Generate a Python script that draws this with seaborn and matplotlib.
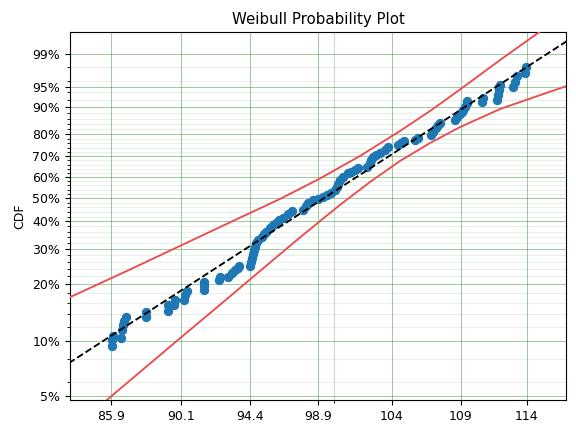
import numpy as np
import seaborn as sns
import matplotlib
matplotlib.use("Agg")
import matplotlib.pyplot as plt
from matplotlib.ticker import FixedLocator, NullFormatter

# observed failures (x) and plotting positions (CDF)
obs_x = [85.96, 85.96, 86.02, 86.49, 86.55, 86.61, 86.67, 86.78, 87.97, 87.97,
         89.29, 89.29, 89.66, 89.72, 90.27, 90.33, 90.45, 91.51, 91.51, 91.51,
         92.45, 92.51, 93.01, 93.27, 93.46, 93.65, 93.71, 94.42, 94.48, 94.55,
         94.61, 94.68, 94.74, 94.81, 94.94, 95.20, 95.33, 95.46, 95.72, 95.91,
         96.11, 96.30, 96.57, 96.90, 97.16, 97.89, 98.09, 98.22, 98.56, 98.89,
         99.23, 99.50, 99.77, 100.04, 100.18, 100.24, 100.38, 100.59, 100.93, 101.14,
         101.41, 101.62, 102.25, 102.46, 102.53, 102.67, 102.88, 103.16, 103.51, 103.72,
         104.43, 104.64, 104.86, 105.64, 105.86, 106.80, 106.95, 107.16, 107.31, 107.46,
         108.56, 108.71, 108.93, 109.08, 109.15, 109.30, 109.45, 109.45, 110.58, 110.66,
         111.72, 111.79, 111.87, 111.87, 111.94, 112.94, 113.09, 113.25, 113.88, 113.95]
obs_F = [.0946, .1017, .1071, .1044, .1152, .1228, .1288, .1354, .1354, .1438,
         .1455, .1567, .1567, .1661, .1661, .1766, .1850, .1871, .1964, .2057,
         .2104, .2181, .2181, .2285, .2362, .2419, .2476, .2476, .2589, .2708,
         .2833, .2957, .3059, .3194, .3296, .3406, .3516, .3590, .3742, .3860,
         .3939, .4057, .4141, .4308, .4434, .4476, .4653, .4785, .4918, .4964,
         .5056, .5149, .5241, .5379, .5522, .5665, .5855, .5999, .6193, .6241,
         .6338, .6435, .6483, .6676, .6821, .6963, .7058, .7152, .7294, .7430,
         .7521, .7612, .7703, .7748, .7833, .7961, .8089, .8252, .8369, .8447,
         .8563, .8666, .8769, .8838, .8906, .8994, .9111, .9170, .9140, .9247,
         .9199, .9319, .9438, .9494, .9532, .9494, .9588, .9681, .9722, .9793]

# fitted model line
model_x = [83.0, 118.0]
model_F = [0.0711, 0.99751]

# confidence bounds
upper_x = [83.54, 87.02, 90.03, 93.14, 96.37, 99.03, 101.76, 104.57, 106.73,
           108.93, 111.94, 115.09, 116.19]
upper_F = [0.1718, 0.2376, 0.3092, 0.3959, 0.4964, 0.5927, 0.7010, 0.8131, 0.8872,
           0.9447, 0.9860, 0.99808, 0.99921]
lower_x = [84.98, 87.61, 90.03, 92.51, 95.07, 97.69, 100.38, 102.46, 104.57,
           106.73, 108.93, 111.94, 115.01, 117.78]
lower_F = [0.0419, 0.0680, 0.1040, 0.1567, 0.2336, 0.3388, 0.4697, 0.5760, 0.6773,
           0.7612, 0.8291, 0.8935, 0.9319, 0.9569]

x_ticks = [85.9, 90.1, 94.4, 98.9, 104, 109, 114]
x_labels = ["85.9", "90.1", "94.4", "98.9", "104", "109", "114"]
y_ticks = [0.05, 0.1, 0.2, 0.3, 0.4, 0.5, 0.6, 0.7, 0.8, 0.9, 0.95, 0.99]
y_labels = ["5%", "10%", "20%", "30%", "40%", "50%", "60%", "70%", "80%", "90%", "95%", "99%"]


def weibull_fwd(F):
    F = np.clip(F, 1e-9, 1 - 1e-12)
    return np.log(-np.log(1 - F))


def weibull_inv(y):
    return 1 - np.exp(-np.exp(y))


plt.rcParams["font.size"] = 9
fig = plt.figure(figsize=(5.76, 4.34), dpi=100)
ax = fig.add_axes([70 / 576, 34 / 434, 496 / 576, 368 / 434])

ax.set_xscale("log")
ax.set_yscale("function", functions=(weibull_fwd, weibull_inv))

sns.scatterplot(x=obs_x, y=obs_F, ax=ax, s=29, color="#1f77b4",
                edgecolor="#1f77b4", linewidth=1.35, zorder=2)
sns.lineplot(x=model_x, y=model_F, ax=ax, color="k", linestyle="--",
             linewidth=1.35, sort=False, zorder=3)
sns.lineplot(x=upper_x, y=upper_F, ax=ax, color="#ec4b50", linewidth=1.35,
             sort=False, zorder=3)
sns.lineplot(x=lower_x, y=lower_F, ax=ax, color="#ec4b50", linewidth=1.35,
             sort=False, zorder=3)

ax.set_xlim(83.54, 117.07)
ax.set_ylim(0.0476, 0.9979)

ax.set_xticks(x_ticks)
ax.set_xticklabels(x_labels)
ax.xaxis.set_minor_locator(FixedLocator([100]))
ax.xaxis.set_minor_formatter(NullFormatter())
ax.set_yticks(y_ticks)
ax.set_yticklabels(y_labels)
ax.yaxis.set_minor_locator(FixedLocator(np.arange(0.02, 0.99, 0.02)))
ax.yaxis.set_minor_formatter(NullFormatter())

ax.grid(which="major", color="g", alpha=0.4, linestyle="-", linewidth=0.7)
ax.grid(which="minor", axis="y", color="g", alpha=0.1, linestyle="-", linewidth=0.7)
ax.grid(which="minor", axis="x", color="g", alpha=0.25, linestyle="-", linewidth=0.7)
ax.set_axisbelow(True)

ax.set_title("Weibull Probability Plot", fontsize=10.8)
ax.set_ylabel("CDF")
ax.set_xlabel("")

fig.savefig("out.png", dpi=100)
